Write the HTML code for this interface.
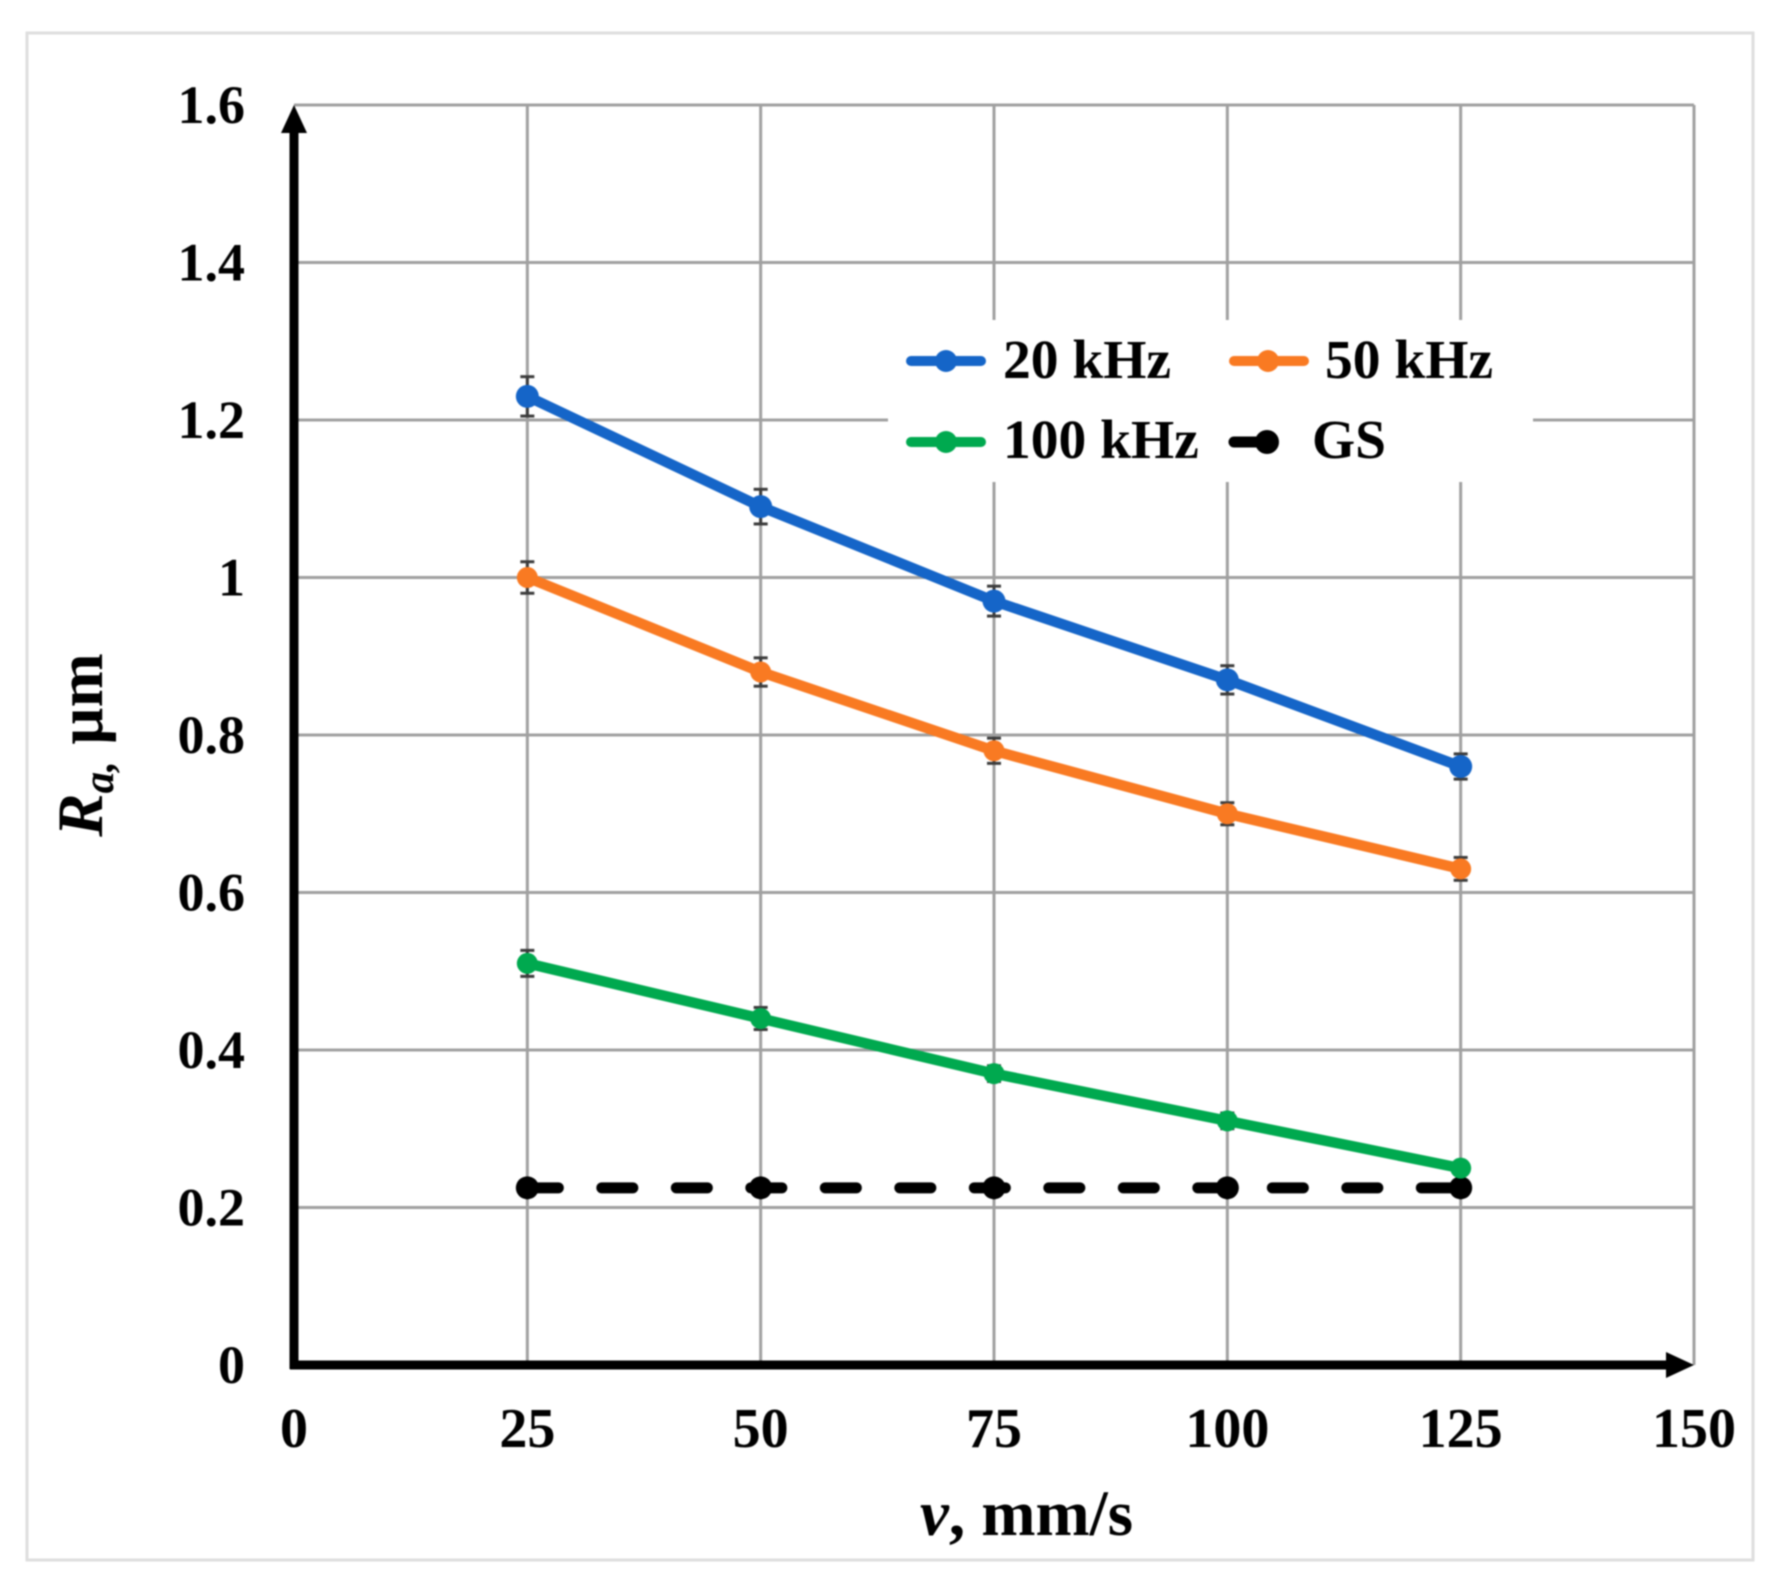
<!DOCTYPE html>
<html lang="en">
<head>
<meta charset="utf-8">
<title>Surface roughness vs scanning speed</title>
<style>
html,body{margin:0;padding:0;background:#fff;}
body{width:1782px;height:1589px;overflow:hidden;}
svg{display:block;filter:blur(0.8px);}
text{font-family:"Liberation Serif",serif;font-weight:bold;fill:#000;}
</style>
</head>
<body>
<svg id="chart" xmlns="http://www.w3.org/2000/svg" width="1782" height="1589" viewBox="0 0 1782 1589">
  <rect x="0" y="0" width="1782" height="1589" fill="#ffffff"/>
  <rect x="27" y="33" width="1726" height="1527" fill="#ffffff" stroke="#dedede" stroke-width="3"/>
  <g id="grid"></g>
  <rect x="888" y="320" width="645" height="162" fill="#ffffff"/>
  <g id="yticks"></g>
  <g id="xticks"></g>
  <g id="series"></g>
  <g>
    <line x1="294" y1="1369" x2="294" y2="125" stroke="#000" stroke-width="9"/>
    <polygon points="294,105 281,133 307,133" fill="#000"/>
    <line x1="290" y1="1365" x2="1672" y2="1365" stroke="#000" stroke-width="9"/>
    <polygon points="1694,1365 1666,1352 1666,1378" fill="#000"/>
  </g>
  <g>
    <g>
      <line x1="911" y1="361" x2="981" y2="361" stroke="#1565c8" stroke-width="10" stroke-linecap="round"/>
      <circle cx="946" cy="361" r="11" fill="#1565c8"/>
      <text x="1003" y="378" font-size="55.5">20 kHz</text>
    </g>
    <g>
      <line x1="1234" y1="361" x2="1304" y2="361" stroke="#f97a22" stroke-width="10" stroke-linecap="round"/>
      <circle cx="1268" cy="361" r="11" fill="#f97a22"/>
      <text x="1325" y="378" font-size="55.5">50 kHz</text>
    </g>
    <g>
      <line x1="911" y1="442" x2="981" y2="442" stroke="#00a94f" stroke-width="10" stroke-linecap="round"/>
      <circle cx="946" cy="442" r="11" fill="#00a94f"/>
      <text x="1003" y="458" font-size="55.5">100 kHz</text>
    </g>
    <g>
      <line x1="1234" y1="442" x2="1265" y2="442" stroke="#000" stroke-width="11" stroke-linecap="round"/>
      <circle cx="1267" cy="442" r="12" fill="#000"/>
      <text x="1312" y="458" font-size="55.5">GS</text>
    </g>
  </g>
  <text x="1026.5" y="1535" font-size="65" text-anchor="middle"><tspan font-style="italic">v</tspan>, mm/s</text>
  <text transform="translate(102,745) rotate(-90)" font-size="65" text-anchor="middle"><tspan font-style="italic">R</tspan><tspan font-style="italic" font-size="43" dy="11">a,</tspan><tspan dy="-11"> µm</tspan></text>
</svg>
<script>
const speeds = [25, 50, 75, 100, 125];
const values20kHz = [1.23, 1.09, 0.97, 0.87, 0.76];
const values50kHz = [1.0, 0.88, 0.78, 0.70, 0.63];
const values100kHz = [0.51, 0.44, 0.37, 0.31, 0.25];
const valuesGS = [0.225, 0.225, 0.225, 0.225, 0.225];
const errors20kHz = [0.025, 0.022, 0.019, 0.018, 0.016];
const errors50kHz = [0.02, 0.018, 0.016, 0.014, 0.0145];
const errors100kHz = [0.0165, 0.014, 0.01, 0.01, 0.008];
const xTickValues = [0, 25, 50, 75, 100, 125, 150];
const xTickLabels = ['0', '25', '50', '75', '100', '125', '150'];
const yTickValues = [0, 0.2, 0.4, 0.6, 0.8, 1.0, 1.2, 1.4, 1.6];
const yTickLabels = ['0', '0.2', '0.4', '0.6', '0.8', '1', '1.2', '1.4', '1.6'];

const NS = 'http://www.w3.org/2000/svg';
const plotLeft = 294, plotRight = 1694, plotTop = 105, plotBottom = 1365;
const xMax = 150, yMax = 1.6;
function xScale(v) { return plotLeft + (v / xMax) * (plotRight - plotLeft); }
function yScale(v) { return plotBottom - (v / yMax) * (plotBottom - plotTop); }

function make(tag, attrs, parent) {
  const el = document.createElementNS(NS, tag);
  for (const k in attrs) el.setAttribute(k, attrs[k]);
  parent.appendChild(el);
  return el;
}

const gridLayer = document.getElementById('grid');
const yTickLayer = document.getElementById('yticks');
const xTickLayer = document.getElementById('xticks');
const seriesLayer = document.getElementById('series');

yTickValues.forEach(function (v, i) {
  if (v > 0) {
    const g = make('line', { x1: plotLeft, x2: plotRight, y1: yScale(v), y2: yScale(v), stroke: '#a0a0a0', 'stroke-width': 3 }, gridLayer);
    
    
  }
  const t = make('text', { x: 245, y: yScale(v) + 18, 'font-size': 54, 'text-anchor': 'end' }, yTickLayer);
  t.textContent = yTickLabels[i];
  
  
});

xTickValues.forEach(function (v, i) {
  if (v > 0) {
    const g = make('line', { x1: xScale(v), x2: xScale(v), y1: plotTop, y2: plotBottom, stroke: '#a0a0a0', 'stroke-width': 3 }, gridLayer);
    
    
  }
  const t = make('text', { x: xScale(v), y: 1447, 'font-size': 56, 'text-anchor': 'middle' }, xTickLayer);
  t.textContent = xTickLabels[i];
  
  
});

function drawErrorBars(name, values, errors) {
  values.forEach(function (v, i) {
    const x = xScale(speeds[i]);
    const top = yScale(v + errors[i]);
    const bottom = yScale(v - errors[i]);
    const group = make('g', { stroke: '#3c3c3c', 'stroke-width': 3 }, seriesLayer);
    
    
    make('line', { x1: x, x2: x, y1: top, y2: bottom }, group);
    make('line', { x1: x - 7, x2: x + 7, y1: top, y2: top }, group);
    make('line', { x1: x - 7, x2: x + 7, y1: bottom, y2: bottom }, group);
  });
}

function drawSeries(name, values, color, width, radius, dash) {
  const pts = values.map(function (v, i) { return xScale(speeds[i]) + ',' + yScale(v); }).join(' ');
  const attrs = { points: pts, fill: 'none', stroke: color, 'stroke-width': width };
  if (dash) {
    attrs['stroke-dasharray'] = dash;
    attrs['stroke-linecap'] = 'round';
  }
  const line = make('polyline', attrs, seriesLayer);
  
  
  values.forEach(function (v, i) {
    const c = make('circle', { cx: xScale(speeds[i]), cy: yScale(v), r: radius, fill: color }, seriesLayer);
    
    
  });
}

drawErrorBars('series-100-khz', values100kHz, errors100kHz);
drawErrorBars('series-50-khz', values50kHz, errors50kHz);
drawErrorBars('series-20-khz', values20kHz, errors20kHz);
drawSeries('series-gs', valuesGS, '#000000', 11, 11.5, '31 43.5');
drawSeries('series-100-khz', values100kHz, '#00a94f', 10.5, 10.5);
drawSeries('series-50-khz', values50kHz, '#f97a22', 10.5, 10.5);
drawSeries('series-20-khz', values20kHz, '#1565c8', 10.5, 11.5);
</script>
</body>
</html>
